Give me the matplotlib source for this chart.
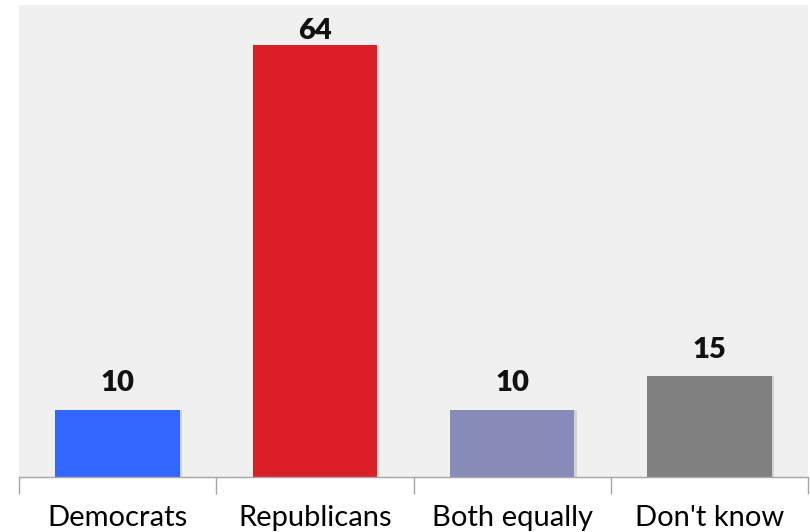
import matplotlib
matplotlib.use("Agg")
import matplotlib.pyplot as plt
import numpy as np

categories = ["Democrats", "Republicans", "Both equally", "Don't know"]
values = [10, 64, 10, 15]
colors = ["#3366ff", "#da1f28", "#878bb8", "#808080"]

plt.rcParams['font.family'] = ['Lato', 'DejaVu Sans']

fig = plt.figure(figsize=(8.1, 5.32), dpi=100)
ax = fig.add_axes([19/810, 55/532, 789/810, 472/532])
ax.set_facecolor("#f0f0f0")

YMAX = 70
x = np.arange(len(categories))
# subtle shadow
ax.bar(x + 0.012, values, width=0.63, color="#000000", alpha=0.12, zorder=1)
ax.bar(x, values, width=0.63, color=colors, zorder=2)

for xi, v in zip(x, values):
    ax.text(xi, min(v + 2.7, YMAX - 5.0), str(v), ha="center", va="baseline",
            fontsize=21, fontweight="heavy", color="#111111")

ax.set_xlim(-0.5, len(categories) - 0.5)
ax.set_ylim(0, YMAX)
ax.set_yticks([])
for s in ["top", "right", "left"]:
    ax.spines[s].set_visible(False)
ax.spines["bottom"].set_color("#a6a6a6")
ax.spines["bottom"].set_linewidth(1.0)

ax.set_xticks(np.arange(len(categories) + 1) - 0.5)
ax.set_xticklabels([])
ax.tick_params(axis="x", which="major", length=12, color="#a6a6a6", width=1.0)
ax.set_xticks(x, minor=True)
ax.set_xticklabels(categories, minor=True, fontsize=21, color="#000000")
ax.tick_params(axis="x", which="minor", length=0, pad=20)

fig.savefig("out.png", dpi=100, facecolor="white")
